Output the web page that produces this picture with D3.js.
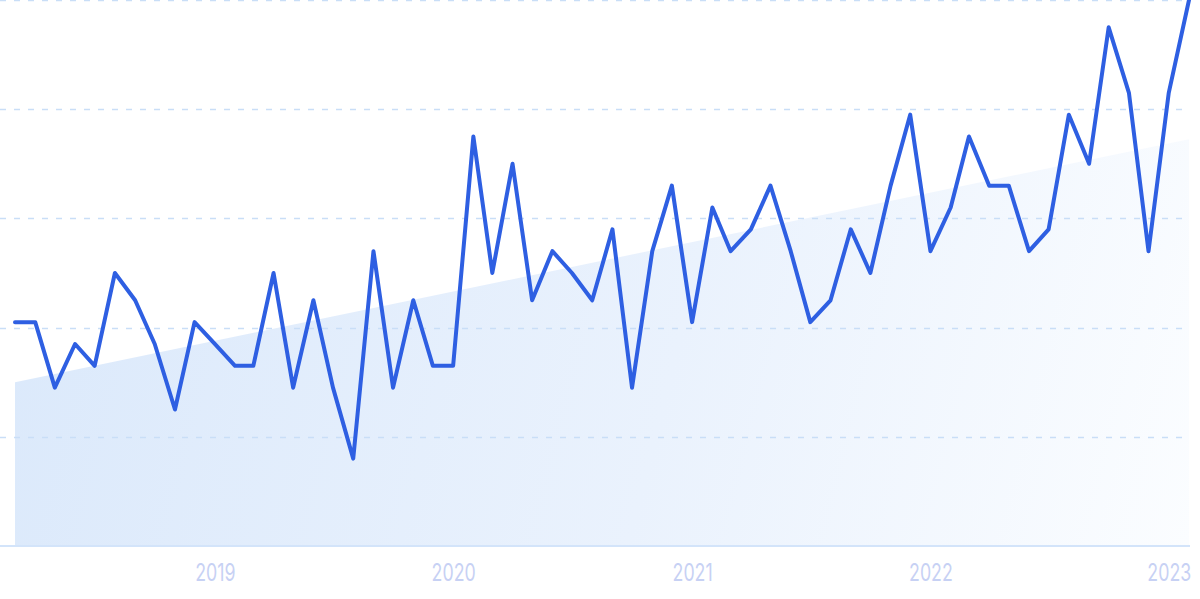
<!DOCTYPE html>
<html>
<head>
<meta charset="utf-8">
<script src="https://cdn.jsdelivr.net/npm/d3@7"></script>
<style>
  html, body { margin: 0; padding: 0; background: #ffffff; }
  svg { display: block; }
</style>
</head>
<body>
<svg id="chart" width="1200" height="599"></svg>
<script>
// ---- data ----
const startMonth = "2018-03";
const values = [41, 41, 29, 37, 33, 50, 45, 37, 25, 41, 37, 33,
                33, 50, 29, 45, 29, 16, 54, 29, 45, 33, 33, 75,
                50, 70, 45, 54, 50, 45, 58, 29, 54, 66, 41, 62,
                54, 58, 66, 54, 41, 45, 58, 50, 66, 79, 54, 62,
                75, 66, 66, 54, 58, 79, 70, 95, 83, 54, 83, 100];
const trendValues = [30, 74.5];
const gridValues = [20, 40, 60, 80, 100];
const tickLabels = ["2019", "2020", "2021", "2022", "2023"];

// ---- build ----
const parse = d3.timeParse("%Y-%m");
const start = parse(startMonth);
const dates = values.map((v, i) => d3.timeMonth.offset(start, i));
const series = values.map((v, i) => ({ date: dates[i], value: v }));
const trend = [
  { date: dates[0], value: trendValues[0] },
  { date: dates[dates.length - 1], value: trendValues[1] }
];

const svg = d3.select("#chart");
const x = d3.scaleTime().domain([dates[0], dates[dates.length - 1]]).range([15, 1189]);
const y = d3.scaleLinear().domain([0, 100]).range([546, 0]);

const defs = svg.append("defs");
const grad = defs.append("linearGradient")
  .attr("id", "trendFill")
  .attr("gradientUnits", "userSpaceOnUse")
  .attr("x1", 15).attr("y1", 250).attr("x2", 1190).attr("y2", 546);
grad.append("stop").attr("offset", "0%").attr("stop-color", "#dbe9fb");
grad.append("stop").attr("offset", "55%").attr("stop-color", "#eaf2fd");
grad.append("stop").attr("offset", "100%").attr("stop-color", "#fbfdff");

// trend area
const area = d3.area()
  .x(d => x(d.date))
  .y0(y(0))
  .y1(d => y(d.value));
svg.append("path")
  .datum(trend)
  .attr("d", area)
  .attr("fill", "url(#trendFill)");

// gridlines
svg.append("g").selectAll("line")
  .data(gridValues)
  .join("line")
  .attr("x1", 0).attr("x2", 1186)
  .attr("y1", d => Math.round(y(d)) + 0.5)
  .attr("y2", d => Math.round(y(d)) + 0.5)
  .attr("stroke", "#c9def7")
  .attr("stroke-width", 1.5)
  .attr("stroke-dasharray", "6 8");

// baseline
svg.append("line")
  .attr("x1", 0).attr("x2", 1190)
  .attr("y1", y(0)).attr("y2", y(0))
  .attr("stroke", "#d3e4fa")
  .attr("stroke-width", 2);

// x axis labels
const tickDates = tickLabels.map(t => d3.timeParse("%Y")(t));
const axis = d3.axisBottom(x)
  .tickValues(tickDates)
  .tickFormat(d3.timeFormat("%Y"))
  .tickSize(0)
  .tickPadding(0);
const gAxis = svg.append("g")
  .attr("transform", `translate(0, 581)`)
  .call(axis);
gAxis.select(".domain").remove();
gAxis.selectAll(".tick text")
  .attr("dy", 0)
  .attr("y", 0)
  .attr("font-family", "Inter, 'Noto Sans', sans-serif")
  .attr("font-size", 24)
  .attr("fill", "#c7d1f4")
  .attr("text-anchor", "middle")
  .attr("transform", "scale(0.74,1)")
  .attr("x", 0);

// main line
const line = d3.line()
  .x(d => x(d.date))
  .y(d => y(d.value));
svg.append("path")
  .datum(series)
  .attr("d", line)
  .attr("fill", "none")
  .attr("stroke", "#2e5fe2")
  .attr("stroke-width", 4)
  .attr("stroke-linejoin", "round")
  .attr("stroke-linecap", "round");
</script>
</body>
</html>
